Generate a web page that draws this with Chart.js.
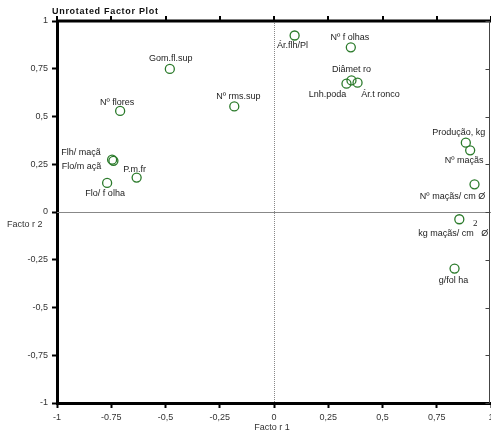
<!DOCTYPE html>
<html>
<head>
<meta charset="utf-8">
<script src="https://cdn.jsdelivr.net/npm/chart.js@4.4.0/dist/chart.umd.min.js"></script>
<style>
  html, body { margin: 0; padding: 0; background: #fff; }
  #wrap { width: 491px; height: 434px; }
</style>
</head>
<body>
<div id="wrap"><canvas id="c" width="491" height="434"></canvas></div>
<script>
// Variable names and their loadings on the first two factors
const variables = ['Ár.flh/Pl', 'Nº f olhas', 'Diâmet ro', 'Lnh.poda', 'Ár.t ronco',
  'Gom.fl.sup', 'Nº flores', 'Nº rms.sup', 'Flh/ maçã', 'Flo/m açã', 'P.m.fr',
  'Flo/ f olha', 'Produção, kg', 'Nº maçãs', 'Nº maçãs/ cm Ø', 'kg maçãs/ cm   Ø', 'g/fol ha'];
const factor1 = [0.095, 0.354, 0.357, 0.334, 0.385, -0.480, -0.709, -0.183, -0.746, -0.740,
  -0.633, -0.769, 0.884, 0.904, 0.924, 0.854, 0.832];
const factor2 = [0.924, 0.862, 0.689, 0.672, 0.677, 0.749, 0.529, 0.553, 0.274, 0.268,
  0.180, 0.152, 0.363, 0.323, 0.145, -0.038, -0.296];
const xTickLabels = ['-1', '-0.75', '-0,5', '-0,25', '0', '0,25', '0,5', '0,75', '1'];
const yTickLabels = ['-1', '-0,75', '-0,5', '-0,25', '0', '0,25', '0,5', '0,75', '1'];

// Where each variable's name sits relative to its marker (pixels)
const labelOffset = {
  'Ár.flh/Pl': [-2, 10], 'Nº f olhas': [-1, -10], 'Diâmet ro': [0, -11],
  'Lnh.poda': [-19, 11], 'Ár.t ronco': [23, 12], 'Gom.fl.sup': [1, -10],
  'Nº flores': [-3, -8], 'Nº rms.sup': [4, -10], 'Flh/ maçã': [-31, -7],
  'Flo/m açã': [-32, 6], 'P.m.fr': [-2, -8], 'Flo/ f olha': [-2, 11],
  'Produção, kg': [-7, -10], 'Nº maçãs': [-6, 10], 'Nº maçãs/ cm Ø': [-22, 12],
  'kg maçãs/ cm   Ø': [-6, 14], 'g/fol ha': [-1, 12]
};

const FONT = 'Liberation Sans, Arial, sans-serif';

const framePlugin = {
  id: 'frame',
  beforeDatasetsDraw(chart) {
    const { ctx, chartArea: a, scales: { x, y } } = chart;
    ctx.save();
    // zero reference lines
    const x0 = Math.round(x.getPixelForValue(0)) + 0.5;
    const y0 = Math.round(y.getPixelForValue(0)) + 0.5;
    ctx.strokeStyle = '#888';
    ctx.lineWidth = 1;
    ctx.setLineDash([1, 1]);
    ctx.beginPath(); ctx.moveTo(x0, a.top); ctx.lineTo(x0, a.bottom); ctx.stroke();
    ctx.setLineDash([]);
    ctx.beginPath(); ctx.moveTo(a.left, y0); ctx.lineTo(a.right, y0); ctx.stroke();

    // top border with outward ticks
    ctx.strokeStyle = '#000';
    ctx.lineWidth = 3;
    ctx.beginPath(); ctx.moveTo(a.left, a.top); ctx.lineTo(a.right, a.top); ctx.stroke();
    ctx.lineWidth = 2;
    x.ticks.forEach(t => {
      const px = Math.round(x.getPixelForValue(t.value));
      ctx.beginPath(); ctx.moveTo(px, a.top); ctx.lineTo(px, a.top - 5); ctx.stroke();
    });

    // right border with inward ticks
    const rx = a.right - 1.5;
    ctx.strokeStyle = '#444';
    ctx.lineWidth = 1;
    ctx.beginPath(); ctx.moveTo(rx, a.top); ctx.lineTo(rx, a.bottom); ctx.stroke();
    y.ticks.forEach(t => {
      const py = Math.round(y.getPixelForValue(t.value)) + 0.5;
      ctx.beginPath(); ctx.moveTo(rx, py); ctx.lineTo(rx - 4, py); ctx.stroke();
    });
    ctx.restore();
  },
  afterDraw(chart) {
    const { ctx } = chart;
    ctx.save();
    ctx.fillStyle = '#111';
    ctx.textBaseline = 'middle';
    ctx.font = 'bold 9px ' + FONT;
    ctx.letterSpacing = '0.7px';
    ctx.textAlign = 'left';
    ctx.fillText('Unrotated Factor Plot', 52, 12);
    ctx.letterSpacing = '0px';
    ctx.font = '9px ' + FONT;
    ctx.fillStyle = '#333';
    ctx.textAlign = 'center';
    ctx.fillText('Facto r 1', 272, 428);
    ctx.textAlign = 'left';
    ctx.fillText('Facto r 2', 7, 225);
    ctx.restore();
  }
};

const labelPlugin = {
  id: 'pointLabels',
  afterDatasetsDraw(chart) {
    const { ctx } = chart;
    const meta = chart.getDatasetMeta(0);
    ctx.save();
    ctx.fillStyle = '#222';
    ctx.textAlign = 'center';
    ctx.textBaseline = 'middle';
    meta.data.forEach((pt, i) => {
      const name = variables[i];
      const [dx, dy] = labelOffset[name] || [0, -10];
      ctx.font = '9px ' + FONT;
      ctx.fillText(name, pt.x + dx, pt.y + dy);
      if (name.startsWith('kg maçãs')) {
        ctx.font = '9px Liberation Serif, serif';
        ctx.fillText('2', pt.x + 16, pt.y + 4);
      }
    });
    ctx.restore();
  }
};

const axisCommon = {
  type: 'linear',
  min: -1,
  max: 1,
  grid: { drawOnChartArea: false, drawTicks: true, tickLength: 5, tickWidth: 2, tickColor: '#000' },
  border: { color: '#000', width: 3 }
};

new Chart(document.getElementById('c'), {
  type: 'scatter',
  data: {
    datasets: [{
      data: factor1.map((v, i) => ({ x: v, y: factor2[i] })),
      pointRadius: 4.5,
      pointHoverRadius: 4.5,
      pointBorderWidth: 1.3,
      pointBorderColor: '#2a7a2a',
      pointBackgroundColor: 'rgba(255,255,255,0)',
      clip: false
    }]
  },
  options: {
    responsive: false,
    animation: false,
    devicePixelRatio: 1,
    layout: { autoPadding: false, padding: { top: 21, right: 0, left: 0, bottom: 0 } },
    plugins: { legend: { display: false }, tooltip: { enabled: false }, title: { display: false } },
    scales: {
      x: Object.assign({}, axisCommon, {
        position: 'bottom',
        ticks: {
          stepSize: 0.25, autoSkip: false, maxRotation: 0, padding: 4,
          color: '#333', font: { family: FONT, size: 9 },
          callback: (v, i) => xTickLabels[i]
        },
        afterFit(s) { s.height = 31; s.paddingLeft = 0; s.paddingRight = 0; }
      }),
      y: Object.assign({}, axisCommon, {
        position: 'left',
        ticks: {
          stepSize: 0.25, autoSkip: false, padding: 4,
          color: '#333', font: { family: FONT, size: 9 },
          callback: (v, i) => yTickLabels[i]
        },
        afterFit(s) { s.width = 57; s.paddingTop = 0; s.paddingBottom = 0; }
      })
    }
  },
  plugins: [framePlugin, labelPlugin]
});
</script>
</body>
</html>
